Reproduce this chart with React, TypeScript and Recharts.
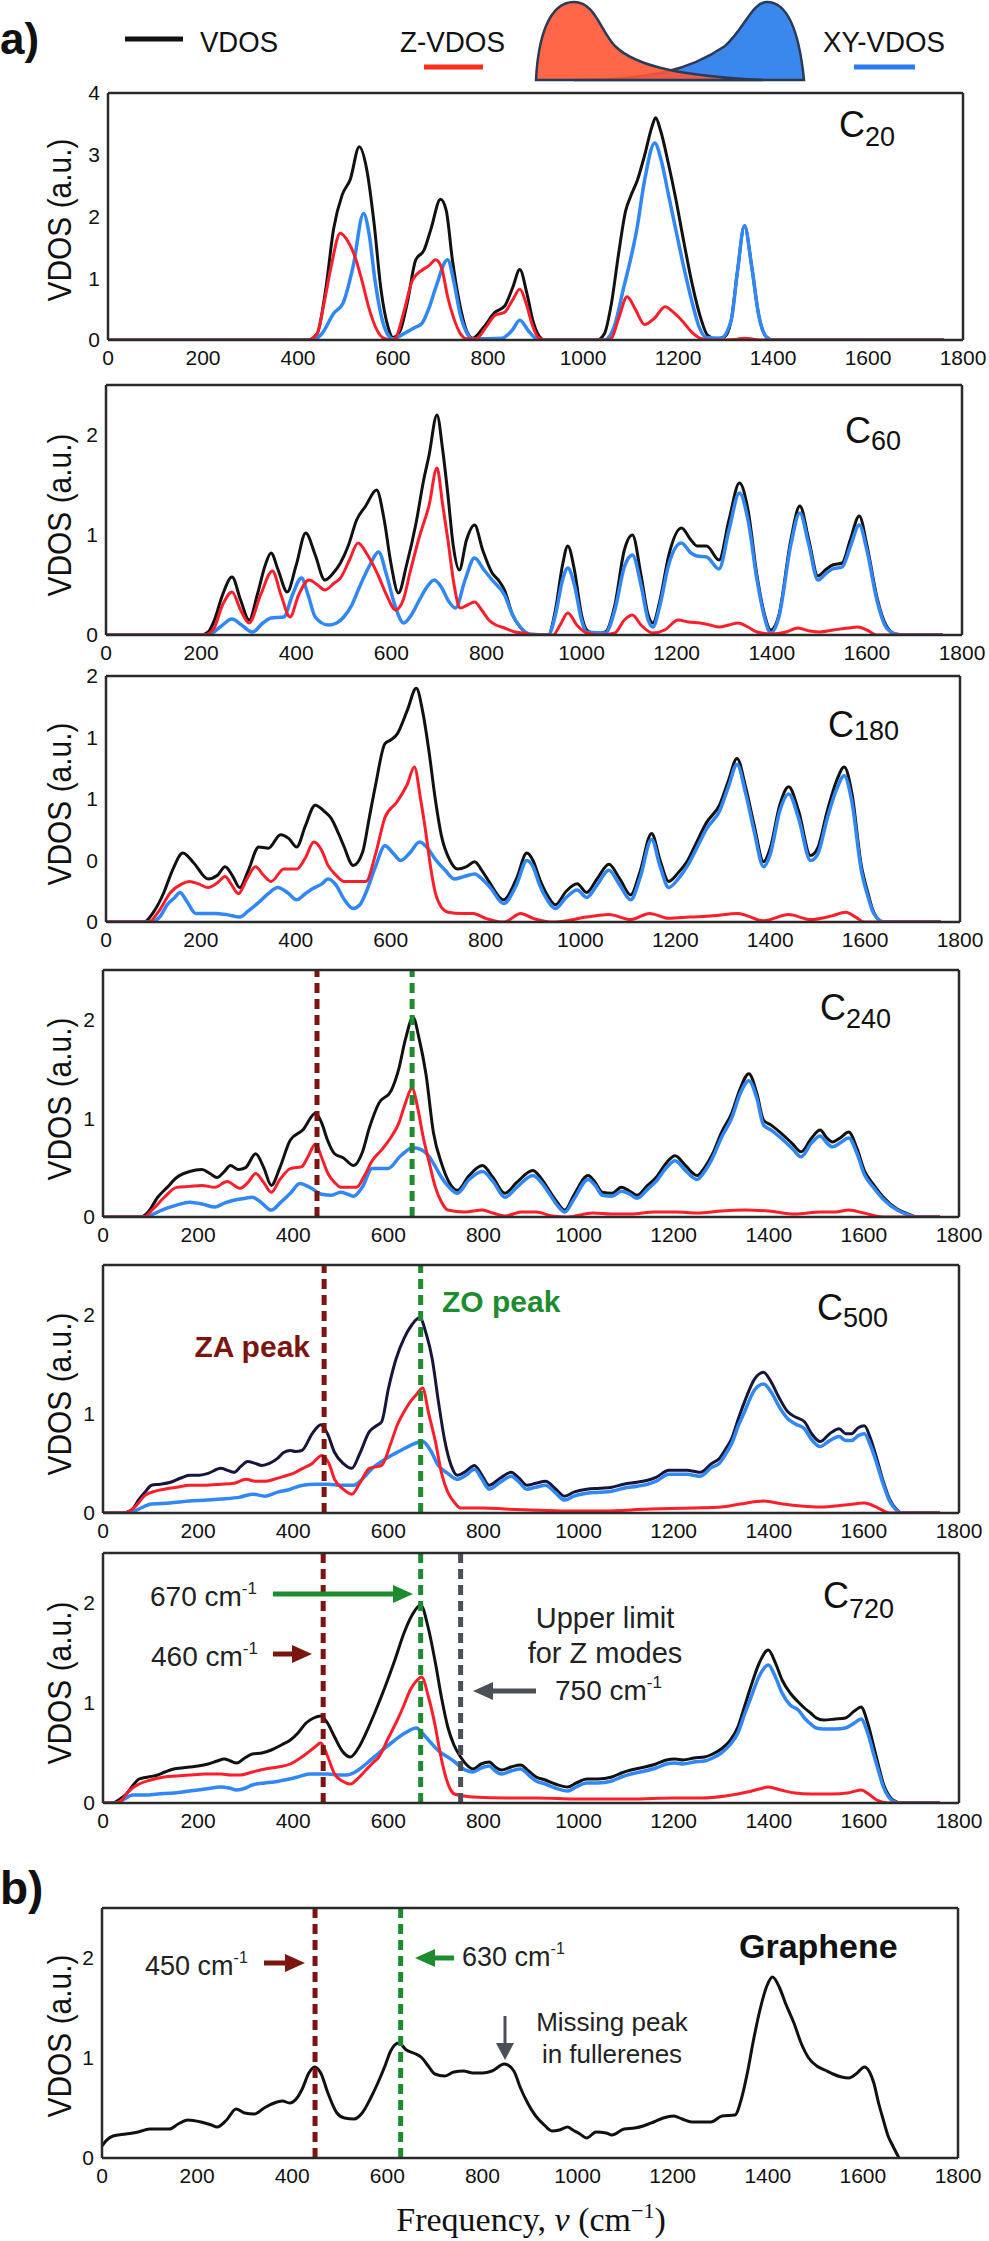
import React from "react";
import { LineChart, Line, XAxis, YAxis, ReferenceLine } from "recharts";

type Pt = [number, number];

// frequency (cm-1), VDOS (a.u.)
const c20Vdos: Pt[] = [[0,0],[420,0],[440,0.1],[458,0.8],[475,1.8],[493,2.35],[510,2.6],[529,3.13],[545,2.75],[560,1.9],[575,0.8],[590,0.2],[600,0.04],[615,0.15],[630,0.6],[648,1.3],[665,1.45],[680,1.8],[700,2.28],[712,2.1],[725,1.3],[740,0.6],[755,0.15],[768,0.03],[790,0.2],[815,0.45],[835,0.55],[852,0.85],[867,1.14],[882,0.75],[895,0.3],[908,0.06],[920,0],[1030,0],[1045,0.1],[1060,0.6],[1075,1.4],[1090,2.1],[1100,2.32],[1115,2.6],[1130,3.0],[1145,3.45],[1153,3.6],[1163,3.4],[1180,2.85],[1195,2.3],[1212,1.6],[1230,0.9],[1248,0.35],[1262,0.08],[1280,0.02],[1298,0.05],[1312,0.32],[1325,1.1],[1340,1.85],[1355,1.2],[1370,0.4],[1386,0.05],[1400,0],[1760,0]];
const c20Z: Pt[] = [[0,0],[420,0],[440,0.1],[455,0.6],[470,1.2],[489,1.73],[505,1.6],[520,1.35],[535,0.95],[550,0.5],[565,0.18],[580,0.03],[600,0],[605,0.02],[622,0.43],[641,0.97],[661,1.13],[675,1.2],[690,1.3],[703,1.15],[715,0.7],[728,0.35],[742,0.1],[755,0.02],[775,0.02],[795,0.2],[815,0.4],[835,0.45],[852,0.65],[867,0.82],[880,0.6],[893,0.25],[905,0.05],[920,0],[1050,0],[1060,0.03],[1075,0.35],[1093,0.7],[1110,0.5],[1130,0.25],[1150,0.35],[1173,0.54],[1190,0.45],[1210,0.3],[1230,0.12],[1250,0.02],[1270,0],[1320,0.01],[1340,0.03],[1360,0.01],[1380,0],[1760,0]];
const c20XY: Pt[] = [[0,0],[430,0],[450,0.1],[475,0.43],[495,0.6],[516,1.19],[538,2.05],[550,1.7],[562,0.97],[575,0.4],[588,0.1],[600,0.02],[622,0.1],[645,0.2],[661,0.27],[675,0.5],[690,0.85],[715,1.3],[728,0.95],[741,0.43],[755,0.12],[768,0.02],[830,0.03],[850,0.15],[867,0.32],[885,0.15],[900,0.03],[915,0],[1045,0],[1065,0.2],[1086,0.86],[1100,1.3],[1113,1.78],[1130,2.6],[1151,3.19],[1165,2.9],[1180,2.35],[1195,1.8],[1213,1.15],[1230,0.6],[1245,0.2],[1260,0.04],[1290,0.03],[1312,0.32],[1325,1.1],[1340,1.85],[1355,1.2],[1370,0.4],[1386,0.05],[1400,0],[1760,0]];

const c60Vdos: Pt[] = [[0,0],[200,0],[215,0.03],[228,0.15],[245,0.4],[265,0.58],[283,0.35],[301,0.15],[318,0.4],[335,0.7],[347,0.82],[362,0.65],[381,0.43],[400,0.7],[420,1.02],[440,0.8],[460,0.55],[478,0.62],[493,0.72],[510,0.9],[527,1.15],[546,1.29],[569,1.45],[585,1.15],[599,0.72],[615,0.42],[632,0.7],[652,1.12],[668,1.55],[679,1.79],[696,2.2],[708,1.85],[719,1.4],[730,0.9],[743,0.65],[758,0.95],[775,1.1],[792,0.85],[812,0.62],[825,0.55],[838,0.45],[855,0.2],[871,0.08],[891,0],[930,0],[945,0.25],[960,0.7],[971,0.89],[985,0.65],[1000,0.2],[1011,0.05],[1030,0.01],[1050,0.03],[1070,0.3],[1090,0.85],[1107,1.0],[1125,0.6],[1140,0.2],[1150,0.12],[1165,0.35],[1183,0.79],[1210,1.07],[1230,0.95],[1243,0.89],[1263,0.89],[1289,0.75],[1310,1.15],[1332,1.52],[1350,1.25],[1369,0.59],[1385,0.2],[1398,0.05],[1415,0.2],[1440,0.95],[1459,1.29],[1478,0.95],[1497,0.59],[1515,0.66],[1528,0.7],[1548,0.72],[1565,0.95],[1584,1.19],[1600,0.9],[1621,0.38],[1640,0.1],[1660,0.01],[1680,0],[1760,0]];
const c60Z: Pt[] = [[0,0],[205,0],[225,0.05],[245,0.3],[265,0.43],[283,0.25],[301,0.12],[325,0.4],[350,0.64],[368,0.4],[387,0.18],[405,0.4],[427,0.55],[445,0.5],[460,0.45],[480,0.52],[493,0.57],[512,0.75],[530,0.92],[550,0.8],[573,0.59],[590,0.4],[609,0.25],[625,0.35],[639,0.62],[660,1.0],[679,1.29],[696,1.67],[708,1.3],[719,0.95],[732,0.5],[745,0.27],[760,0.3],[775,0.33],[790,0.25],[805,0.15],[820,0.1],[838,0.07],[860,0.03],[878,0.02],[900,0],[940,0],[955,0.1],[971,0.22],[990,0.1],[1011,0.02],[1040,0],[1070,0.02],[1090,0.15],[1107,0.2],[1125,0.1],[1150,0.02],[1175,0.05],[1203,0.15],[1225,0.13],[1249,0.12],[1270,0.1],[1289,0.08],[1310,0.1],[1329,0.12],[1350,0.08],[1369,0.03],[1400,0.01],[1430,0.03],[1455,0.07],[1480,0.04],[1501,0.03],[1530,0.05],[1560,0.07],[1581,0.08],[1600,0.05],[1621,0],[1760,0]];
const c60XY: Pt[] = [[0,0],[215,0],[240,0.08],[265,0.16],[285,0.1],[308,0.03],[330,0.12],[347,0.17],[374,0.18],[392,0.4],[411,0.57],[425,0.4],[440,0.18],[467,0.1],[485,0.12],[500,0.18],[517,0.3],[533,0.48],[555,0.7],[573,0.83],[590,0.6],[606,0.32],[626,0.12],[642,0.2],[659,0.35],[675,0.48],[690,0.55],[705,0.48],[719,0.35],[735,0.27],[755,0.55],[775,0.77],[795,0.65],[812,0.55],[838,0.4],[855,0.2],[871,0.08],[891,0.01],[930,0],[945,0.2],[960,0.55],[971,0.67],[985,0.5],[1000,0.15],[1011,0.03],[1050,0.02],[1070,0.25],[1090,0.68],[1107,0.8],[1125,0.5],[1140,0.15],[1150,0.08],[1165,0.3],[1183,0.7],[1210,0.92],[1230,0.82],[1243,0.79],[1263,0.78],[1289,0.66],[1310,1.05],[1332,1.42],[1350,1.15],[1369,0.55],[1385,0.17],[1398,0.02],[1415,0.18],[1440,0.9],[1459,1.22],[1478,0.9],[1497,0.55],[1515,0.62],[1528,0.66],[1548,0.68],[1565,0.88],[1584,1.1],[1600,0.85],[1621,0.35],[1640,0.08],[1660,0.01],[1680,0],[1760,0]];

const c180Vdos: Pt[] = [[0,0],[80,0],[100,0.08],[122,0.24],[140,0.42],[162,0.56],[185,0.48],[215,0.35],[235,0.38],[251,0.45],[266,0.38],[282,0.28],[300,0.42],[322,0.61],[342,0.6],[368,0.71],[385,0.68],[402,0.61],[420,0.78],[441,0.95],[460,0.9],[475,0.84],[490,0.72],[501,0.62],[521,0.46],[541,0.57],[555,0.85],[568,1.11],[588,1.45],[600,1.48],[614,1.53],[635,1.72],[654,1.9],[668,1.7],[681,1.38],[694,1.0],[707,0.7],[725,0.5],[741,0.43],[760,0.45],[777,0.49],[792,0.42],[807,0.33],[838,0.18],[865,0.35],[887,0.56],[900,0.5],[914,0.35],[930,0.22],[947,0.14],[970,0.25],[993,0.31],[1013,0.24],[1035,0.35],[1060,0.47],[1083,0.35],[1106,0.22],[1125,0.4],[1150,0.72],[1168,0.5],[1186,0.33],[1206,0.4],[1226,0.5],[1245,0.65],[1266,0.81],[1293,0.95],[1312,1.15],[1330,1.33],[1348,1.1],[1366,0.79],[1386,0.49],[1400,0.6],[1420,0.95],[1439,1.1],[1460,0.9],[1485,0.54],[1500,0.6],[1520,0.9],[1540,1.15],[1556,1.26],[1572,1.05],[1592,0.46],[1605,0.25],[1618,0.08],[1638,0],[1760,0]];
const c180Z: Pt[] = [[0,0],[90,0],[110,0.08],[136,0.24],[160,0.31],[176,0.33],[195,0.31],[215,0.28],[235,0.32],[251,0.37],[265,0.3],[279,0.23],[297,0.35],[315,0.45],[332,0.38],[348,0.33],[375,0.43],[402,0.43],[420,0.52],[438,0.65],[455,0.58],[468,0.46],[485,0.38],[501,0.33],[548,0.33],[568,0.55],[588,0.85],[614,0.98],[635,1.12],[650,1.26],[663,1.0],[674,0.73],[684,0.45],[694,0.24],[707,0.12],[721,0.08],[750,0.07],[774,0.07],[800,0.03],[840,0],[874,0.07],[900,0.03],[947,0],[1013,0.04],[1060,0.06],[1106,0.02],[1146,0.07],[1186,0.03],[1230,0.04],[1279,0.05],[1332,0.07],[1386,0.01],[1439,0.06],[1485,0.02],[1530,0.05],[1559,0.08],[1580,0.04],[1598,0],[1760,0]];
const c180XY: Pt[] = [[0,0],[96,0],[115,0.05],[129,0.14],[145,0.2],[156,0.24],[170,0.17],[189,0.07],[229,0.07],[255,0.06],[282,0.04],[300,0.09],[322,0.16],[342,0.23],[362,0.28],[382,0.24],[402,0.18],[420,0.23],[435,0.27],[455,0.31],[468,0.35],[485,0.3],[501,0.19],[521,0.11],[535,0.14],[548,0.24],[568,0.45],[588,0.62],[605,0.56],[621,0.5],[640,0.56],[661,0.65],[678,0.6],[694,0.51],[715,0.42],[734,0.35],[755,0.37],[777,0.39],[795,0.34],[810,0.28],[838,0.15],[865,0.3],[887,0.5],[900,0.45],[914,0.3],[930,0.18],[947,0.11],[970,0.2],[993,0.26],[1013,0.2],[1035,0.3],[1060,0.42],[1083,0.3],[1106,0.18],[1125,0.35],[1150,0.67],[1168,0.45],[1186,0.28],[1206,0.35],[1226,0.46],[1245,0.6],[1266,0.76],[1293,0.9],[1312,1.1],[1330,1.28],[1348,1.05],[1366,0.74],[1386,0.45],[1400,0.55],[1420,0.9],[1439,1.04],[1460,0.84],[1485,0.5],[1500,0.55],[1520,0.84],[1540,1.08],[1556,1.19],[1572,0.98],[1592,0.42],[1605,0.22],[1618,0.07],[1640,0],[1760,0]];

const c240Vdos: Pt[] = [[0,0],[80,0],[95,0.05],[115,0.2],[135,0.3],[155,0.4],[182,0.46],[208,0.48],[225,0.44],[240,0.4],[255,0.46],[268,0.52],[285,0.48],[300,0.5],[321,0.64],[338,0.5],[354,0.32],[372,0.5],[394,0.78],[420,0.88],[447,1.05],[460,0.95],[472,0.78],[487,0.64],[505,0.6],[527,0.52],[545,0.65],[560,0.9],[580,1.15],[606,1.28],[622,1.5],[636,1.8],[652,2.02],[665,1.8],[679,1.45],[695,0.85],[712,0.54],[728,0.35],[745,0.27],[770,0.42],[798,0.52],[820,0.4],[845,0.24],[870,0.35],[904,0.47],[920,0.4],[938,0.27],[955,0.15],[971,0.07],[990,0.22],[1020,0.42],[1035,0.35],[1050,0.25],[1070,0.24],[1090,0.3],[1105,0.27],[1123,0.22],[1145,0.32],[1163,0.4],[1185,0.55],[1203,0.62],[1225,0.52],[1249,0.42],[1265,0.5],[1282,0.64],[1300,0.85],[1322,1.05],[1340,1.3],[1358,1.45],[1375,1.25],[1389,0.98],[1405,0.93],[1428,0.84],[1450,0.74],[1468,0.66],[1490,0.8],[1508,0.88],[1522,0.8],[1534,0.76],[1550,0.8],[1568,0.86],[1585,0.7],[1601,0.47],[1620,0.33],[1641,0.2],[1670,0.08],[1694,0.03],[1714,0],[1760,0]];
const c240Z: Pt[] = [[0,0],[85,0],[105,0.08],[129,0.2],[155,0.3],[182,0.31],[208,0.32],[235,0.3],[261,0.36],[288,0.29],[305,0.35],[321,0.44],[338,0.35],[354,0.25],[372,0.38],[394,0.49],[418,0.51],[430,0.6],[447,0.74],[460,0.6],[473,0.44],[487,0.35],[500,0.3],[533,0.3],[550,0.42],[566,0.57],[586,0.68],[606,0.81],[622,0.95],[633,1.11],[650,1.3],[662,1.1],[672,0.84],[686,0.55],[699,0.3],[712,0.15],[725,0.07],[760,0.05],[798,0.07],[820,0.04],[845,0.01],[880,0.05],[911,0.05],[945,0.01],[977,0],[1030,0.04],[1070,0.03],[1110,0.03],[1160,0.05],[1203,0.05],[1250,0.04],[1300,0.06],[1349,0.07],[1400,0.06],[1455,0.03],[1510,0.05],[1540,0.05],[1568,0.07],[1600,0.04],[1641,0],[1760,0]];
const c240XY: Pt[] = [[0,0],[90,0],[110,0.04],[129,0.08],[155,0.12],[182,0.15],[210,0.13],[235,0.1],[255,0.14],[275,0.17],[300,0.19],[314,0.2],[332,0.15],[354,0.07],[374,0.15],[394,0.24],[414,0.34],[435,0.3],[460,0.23],[480,0.22],[500,0.25],[515,0.23],[527,0.21],[545,0.3],[566,0.49],[599,0.49],[626,0.62],[652,0.7],[670,0.68],[686,0.61],[700,0.5],[712,0.4],[728,0.3],[745,0.24],[770,0.38],[798,0.46],[820,0.36],[845,0.2],[870,0.3],[904,0.42],[920,0.36],[938,0.24],[955,0.12],[971,0.05],[990,0.18],[1020,0.38],[1035,0.32],[1050,0.22],[1070,0.21],[1090,0.26],[1105,0.24],[1123,0.19],[1145,0.28],[1163,0.36],[1185,0.5],[1203,0.57],[1225,0.47],[1249,0.38],[1265,0.46],[1282,0.6],[1300,0.8],[1322,1.0],[1340,1.25],[1358,1.38],[1375,1.2],[1389,0.93],[1405,0.88],[1428,0.79],[1450,0.69],[1468,0.61],[1490,0.75],[1508,0.82],[1522,0.75],[1534,0.71],[1550,0.75],[1568,0.8],[1585,0.65],[1601,0.43],[1620,0.3],[1641,0.18],[1670,0.07],[1694,0.02],[1714,0],[1760,0]];

const c500Vdos: Pt[] = [[0,0],[40,0],[60,0.03],[76,0.14],[90,0.22],[102,0.28],[120,0.29],[142,0.31],[162,0.35],[182,0.38],[200,0.38],[221,0.4],[248,0.45],[262,0.43],[275,0.41],[290,0.47],[304,0.52],[320,0.5],[334,0.48],[350,0.5],[367,0.55],[380,0.61],[394,0.63],[405,0.62],[418,0.63],[440,0.8],[458,0.89],[472,0.8],[487,0.61],[505,0.5],[523,0.45],[540,0.6],[560,0.82],[575,0.88],[586,0.92],[600,1.25],[616,1.55],[633,1.76],[650,1.9],[666,1.97],[680,1.8],[692,1.56],[706,1.1],[719,0.72],[732,0.48],[745,0.38],[763,0.42],[781,0.48],[797,0.38],[812,0.28],[835,0.35],[858,0.41],[875,0.35],[891,0.28],[910,0.3],[931,0.32],[950,0.25],[971,0.17],[990,0.21],[1017,0.24],[1045,0.25],[1070,0.26],[1095,0.29],[1123,0.31],[1145,0.33],[1163,0.36],[1190,0.43],[1210,0.43],[1229,0.43],[1243,0.42],[1256,0.41],[1280,0.5],[1296,0.55],[1310,0.65],[1322,0.75],[1336,0.95],[1349,1.12],[1370,1.35],[1389,1.42],[1405,1.32],[1422,1.16],[1440,1.02],[1455,0.97],[1475,0.92],[1490,0.8],[1508,0.72],[1528,0.8],[1548,0.85],[1562,0.8],[1574,0.8],[1588,0.86],[1601,0.88],[1614,0.75],[1627,0.55],[1640,0.33],[1654,0.14],[1668,0.04],[1680,0],[1760,0]];
const c500Z: Pt[] = [[0,0],[45,0],[65,0.05],[89,0.18],[110,0.22],[129,0.24],[155,0.26],[182,0.28],[215,0.28],[248,0.29],[275,0.3],[301,0.34],[320,0.32],[341,0.32],[360,0.34],[381,0.37],[400,0.4],[420,0.45],[440,0.5],[460,0.58],[475,0.5],[487,0.34],[505,0.24],[523,0.19],[540,0.3],[560,0.45],[586,0.48],[605,0.7],[619,0.89],[633,1.02],[646,1.12],[660,1.2],[672,1.26],[685,1.0],[699,0.72],[712,0.4],[725,0.21],[740,0.1],[752,0.05],[800,0.05],[845,0.04],[900,0.03],[977,0.02],[1050,0.02],[1150,0.04],[1243,0.05],[1300,0.06],[1340,0.09],[1389,0.12],[1430,0.09],[1468,0.07],[1508,0.06],[1560,0.08],[1601,0.1],[1630,0.05],[1654,0],[1760,0]];
const c500XY: Pt[] = [[0,0],[55,0],[75,0.04],[102,0.09],[140,0.1],[182,0.12],[220,0.13],[248,0.14],[288,0.16],[314,0.19],[341,0.17],[367,0.21],[394,0.24],[420,0.28],[447,0.29],[473,0.29],[500,0.28],[527,0.28],[545,0.34],[566,0.45],[586,0.52],[606,0.58],[626,0.63],[646,0.68],[672,0.72],[690,0.62],[705,0.48],[725,0.4],[745,0.34],[763,0.38],[781,0.44],[797,0.34],[812,0.24],[835,0.31],[858,0.37],[875,0.31],[891,0.24],[910,0.26],[931,0.28],[950,0.21],[971,0.13],[990,0.17],[1017,0.2],[1045,0.21],[1070,0.22],[1095,0.25],[1123,0.27],[1145,0.29],[1163,0.32],[1190,0.39],[1210,0.39],[1229,0.39],[1243,0.38],[1256,0.37],[1280,0.46],[1296,0.5],[1310,0.6],[1322,0.7],[1336,0.88],[1349,1.02],[1370,1.24],[1389,1.3],[1405,1.22],[1422,1.07],[1440,0.95],[1455,0.9],[1475,0.85],[1490,0.74],[1508,0.67],[1528,0.73],[1548,0.77],[1562,0.73],[1574,0.73],[1588,0.78],[1601,0.8],[1614,0.68],[1627,0.5],[1640,0.3],[1654,0.12],[1668,0.03],[1680,0],[1760,0]];

const c720Vdos: Pt[] = [[0,0],[20,0],[36,0.04],[49,0.09],[62,0.17],[76,0.24],[95,0.26],[115,0.28],[130,0.31],[149,0.34],[165,0.35],[182,0.36],[200,0.37],[221,0.39],[240,0.42],[255,0.44],[268,0.42],[281,0.4],[298,0.45],[314,0.49],[334,0.5],[354,0.53],[375,0.58],[394,0.63],[410,0.7],[427,0.8],[443,0.85],[458,0.87],[472,0.8],[487,0.66],[503,0.52],[520,0.46],[537,0.55],[553,0.7],[573,0.92],[593,1.16],[613,1.42],[633,1.7],[650,1.88],[668,1.98],[684,1.75],[699,1.4],[712,1.05],[725,0.76],[738,0.58],[752,0.46],[765,0.38],[778,0.34],[795,0.39],[812,0.41],[825,0.36],[838,0.33],[858,0.36],[878,0.38],[895,0.32],[911,0.26],[930,0.23],[951,0.19],[977,0.16],[995,0.2],[1017,0.24],[1040,0.24],[1070,0.26],[1090,0.3],[1110,0.33],[1130,0.35],[1163,0.39],[1185,0.43],[1203,0.44],[1220,0.43],[1243,0.45],[1265,0.46],[1282,0.49],[1300,0.54],[1318,0.62],[1335,0.76],[1350,0.98],[1362,1.16],[1380,1.4],[1399,1.53],[1414,1.4],[1428,1.23],[1445,1.1],[1462,1.01],[1475,0.95],[1488,0.9],[1500,0.85],[1515,0.83],[1540,0.84],[1561,0.85],[1580,0.92],[1594,0.96],[1608,0.8],[1621,0.56],[1632,0.35],[1641,0.19],[1652,0.08],[1661,0.03],[1680,0],[1760,0]];
const c720Z: Pt[] = [[0,0],[25,0],[40,0.03],[49,0.09],[62,0.15],[76,0.19],[100,0.23],[129,0.26],[155,0.27],[182,0.28],[215,0.29],[248,0.29],[268,0.28],[288,0.28],[314,0.31],[341,0.34],[368,0.36],[394,0.39],[415,0.45],[427,0.49],[443,0.55],[458,0.6],[472,0.47],[487,0.29],[503,0.22],[520,0.19],[537,0.25],[553,0.33],[567,0.4],[580,0.46],[600,0.65],[619,0.83],[633,0.98],[646,1.13],[659,1.22],[670,1.26],[685,1.05],[699,0.76],[709,0.5],[719,0.29],[729,0.15],[739,0.09],[760,0.07],[778,0.06],[850,0.05],[911,0.05],[1000,0.04],[1110,0.04],[1200,0.05],[1260,0.05],[1309,0.07],[1335,0.09],[1355,0.11],[1380,0.14],[1399,0.16],[1425,0.13],[1455,0.1],[1490,0.09],[1534,0.09],[1565,0.1],[1594,0.13],[1610,0.09],[1627,0.03],[1654,0],[1760,0]];
const c720XY: Pt[] = [[0,0],[30,0],[45,0.04],[62,0.08],[90,0.08],[115,0.09],[150,0.1],[182,0.12],[215,0.14],[248,0.16],[265,0.15],[281,0.13],[300,0.15],[314,0.18],[340,0.2],[360,0.21],[381,0.23],[410,0.26],[434,0.29],[455,0.29],[473,0.29],[495,0.28],[513,0.28],[530,0.31],[553,0.39],[580,0.5],[606,0.6],[635,0.7],[659,0.75],[675,0.68],[690,0.6],[706,0.52],[725,0.46],[740,0.41],[755,0.35],[778,0.31],[795,0.35],[812,0.37],[825,0.32],[838,0.29],[858,0.32],[878,0.34],[895,0.28],[911,0.22],[930,0.19],[951,0.15],[977,0.12],[995,0.16],[1017,0.2],[1040,0.2],[1070,0.22],[1090,0.26],[1110,0.29],[1130,0.31],[1163,0.35],[1185,0.39],[1203,0.4],[1220,0.39],[1243,0.41],[1265,0.42],[1282,0.45],[1300,0.5],[1318,0.58],[1335,0.7],[1350,0.9],[1362,1.05],[1380,1.27],[1399,1.38],[1414,1.26],[1428,1.1],[1445,0.98],[1462,0.93],[1475,0.85],[1488,0.79],[1500,0.75],[1515,0.74],[1540,0.74],[1561,0.75],[1580,0.8],[1594,0.84],[1608,0.7],[1621,0.48],[1632,0.3],[1641,0.16],[1652,0.06],[1661,0.02],[1680,0],[1760,0]];

const grapheneVdos: Pt[] = [[0,0.12],[8,0.17],[23,0.22],[50,0.24],[76,0.26],[100,0.29],[116,0.29],[142,0.29],[160,0.34],[180,0.38],[208,0.36],[230,0.33],[242,0.31],[262,0.38],[282,0.49],[300,0.45],[320,0.44],[341,0.5],[368,0.56],[380,0.57],[394,0.55],[410,0.6],[421,0.69],[435,0.85],[447,0.91],[460,0.85],[475,0.65],[494,0.45],[510,0.4],[530,0.39],[547,0.45],[565,0.6],[580,0.75],[595,0.92],[607,1.07],[624,1.15],[640,1.08],[660,1.04],[673,1.0],[686,0.92],[700,0.84],[720,0.82],[740,0.86],[760,0.87],[780,0.85],[800,0.85],[820,0.87],[846,0.94],[866,0.87],[880,0.7],[895,0.55],[912,0.42],[930,0.33],[946,0.27],[962,0.28],[979,0.31],[990,0.28],[1005,0.24],[1019,0.2],[1039,0.26],[1060,0.25],[1072,0.23],[1098,0.29],[1120,0.3],[1138,0.32],[1160,0.36],[1180,0.4],[1202,0.42],[1220,0.39],[1240,0.36],[1260,0.36],[1280,0.36],[1304,0.42],[1331,0.43],[1345,0.6],[1357,0.85],[1370,1.18],[1384,1.49],[1398,1.72],[1410,1.81],[1425,1.7],[1437,1.55],[1455,1.35],[1470,1.15],[1486,1.0],[1503,0.92],[1520,0.88],[1537,0.84],[1555,0.81],[1570,0.8],[1588,0.85],[1603,0.91],[1614,0.86],[1623,0.75],[1633,0.55],[1643,0.38],[1653,0.22],[1663,0.12],[1676,0]];

const xLabelTicks = [0, 200, 400, 600, 800, 1000, 1200, 1400, 1600, 1800];
const xMinorTicks = [100, 200, 300, 400, 500, 600, 700, 800, 900, 1000, 1100, 1200, 1300, 1400, 1500, 1600, 1700];
const yTicks4 = [0, 1, 2, 3, 4];
const yMinor4 = [0.5, 1.5, 2.5, 3.5];
const yRight4 = [0.43, 0.86, 1.3, 1.73, 2.16, 2.64, 3.08, 3.5];
const yTicks25 = [0, 1, 2];
const yMinor25 = [0.5, 1.5];
const yRight25 = [0.27, 0.54, 0.82, 1.09, 1.36, 1.63, 1.9, 2.17, 2.43];
const yTicks2 = [0, 0.5, 1, 1.5, 2];
const yRight2 = [0.43, 0.87, 1.3, 1.73];

const BLACK = "#111111";
const NAVY = "#15163a";
const RED = "#fb1f2c";
const BLUE = "#3187f4";
const BROWN = "#7b1510";
const GREEN = "#1d8c2f";
const GREY = "#4b4f57";
const FRAME = "#2a2a2a";

const toPts = (arr: Pt[]) => arr.map(([x, y]) => ({ x, y }));

type Series = { data: Pt[]; color: string; w: number };
type Marker = { x: number; color: string };

const PAD_TOP = 20;

function Panel(p: {
  left: number; right: number; top: number; bottom: number; yMax: number;
  yLabels: number[]; yMinor: number[]; yRight: number[];
  fmt?: (v: number) => string; series: Series[]; markers?: Marker[];
}) {
  const h = p.bottom - p.top + PAD_TOP + 36;
  const tickFont = { fontSize: 21, fill: "#111", fontFamily: "Liberation Sans, Arial, sans-serif" };
  const frame = { stroke: FRAME, strokeWidth: 2.5 };
  const tl = { stroke: FRAME, strokeWidth: 2 };
  return (
    <div style={{ position: "absolute", left: 0, top: p.top - PAD_TOP }}>
      <LineChart width={989} height={h} margin={{ top: PAD_TOP, right: 989 - p.right, bottom: 0, left: p.left - 40 }}>
        <XAxis xAxisId="x" dataKey="x" type="number" domain={[0, 1800]} ticks={xLabelTicks} interval={0}
          allowDataOverflow height={36} tick={tickFont} tickLine={false} tickSize={6} tickMargin={4} axisLine={frame} />
        <XAxis xAxisId="xb" dataKey="x" type="number" domain={[0, 1800]} ticks={xMinorTicks} interval={0}
          allowDataOverflow orientation="bottom" mirror height={1} tick={false} tickLine={tl} tickSize={5} axisLine={false} />
        <XAxis xAxisId="xt" dataKey="x" type="number" domain={[0, 1800]} ticks={xMinorTicks} interval={0}
          allowDataOverflow orientation="top" mirror height={1} tick={false} tickLine={tl} tickSize={6} axisLine={frame} />
        <YAxis yAxisId="y" type="number" domain={[0, p.yMax]} ticks={p.yLabels} interval={0} allowDataOverflow
          width={40} tick={tickFont} tickLine={false} axisLine={frame} tickFormatter={p.fmt ?? ((v: number) => String(v))} />
        <YAxis yAxisId="yl" type="number" domain={[0, p.yMax]} ticks={p.yLabels} interval={0} allowDataOverflow
          mirror width={1} tick={false} tickLine={tl} tickSize={10} axisLine={false} />
        <YAxis yAxisId="ym" type="number" domain={[0, p.yMax]} ticks={p.yMinor} interval={0} allowDataOverflow
          mirror width={1} tick={false} tickLine={tl} tickSize={7} axisLine={false} />
        <YAxis yAxisId="yr" type="number" domain={[0, p.yMax]} ticks={p.yRight} interval={0} allowDataOverflow
          orientation="right" mirror width={1} tick={false} tickLine={tl} tickSize={8} axisLine={frame} />
        {p.series.map((s, i) => (
          <Line key={i} xAxisId="x" yAxisId="y" data={toPts(s.data)} dataKey="y" type="monotone"
            stroke={s.color} strokeWidth={s.w} dot={false} activeDot={false} isAnimationActive={false} />
        ))}
        {(p.markers ?? []).map((m, i) => (
          <ReferenceLine key={"m" + i} xAxisId="x" yAxisId="y" x={m.x} stroke={m.color} strokeWidth={5}
            strokeDasharray="10 6" ifOverflow="extendDomain" />
        ))}
      </LineChart>
    </div>
  );
}

function Arrow({ x1, y1, x2, y2, color, w = 5, head = 20, half = 9 }: {
  x1: number; y1: number; x2: number; y2: number; color: string; w?: number; head?: number; half?: number;
}) {
  const dx = x2 - x1, dy = y2 - y1;
  const len = Math.hypot(dx, dy);
  const ux = dx / len, uy = dy / len;
  const bx = x2 - ux * head, by = y2 - uy * head;
  return (
    <g>
      <line x1={x1} y1={y1} x2={bx + ux * 2} y2={by + uy * 2} stroke={color} strokeWidth={w} />
      <polygon points={`${x2},${y2} ${bx - uy * half},${by + ux * half} ${bx + uy * half},${by - ux * half}`} fill={color} />
    </g>
  );
}

function CLabel({ x, y, sub, dy }: { x: number; y: number; sub: string; dy: number }) {
  return (
    <text x={x} y={y} fontSize={36} fill="#111">
      C<tspan fontSize={27} dy={dy}>{sub}</tspan>
    </text>
  );
}

function YTitle({ cy }: { cy: number }) {
  return (
    <text x={71} y={cy} transform={`rotate(-90 71 ${cy})`} textAnchor="middle" fontSize={34} fill="#111"
      textLength={163} lengthAdjust="spacingAndGlyphs">VDOS (a.u.)</text>
  );
}

function Overlay() {
  const sans = "Liberation Sans, Arial, sans-serif";
  return (
    <svg width={989} height={2241} style={{ position: "absolute", left: 0, top: 0, pointerEvents: "none" }} fontFamily={sans}>
      <text x={0} y={54} fontSize={44} fontWeight="bold" fill="#111">a)</text>
      <line x1={125} y1={39} x2={183} y2={39} stroke={BLACK} strokeWidth={5} />
      <text x={200} y={52} fontSize={30} fill="#111" textLength={78} lengthAdjust="spacingAndGlyphs">VDOS</text>
      <text x={400} y={52} fontSize={30} fill="#111" textLength={105} lengthAdjust="spacingAndGlyphs">Z-VDOS</text>
      <line x1={424} y1={67} x2={483} y2={67} stroke="#ff2d1a" strokeWidth={5} />
      <path d="M574,80 C650,80 690,70 725,46 C745,28 752,2 767,2 C790,2 800,40 804,80 Z" fill="#3a88ee" stroke="#2b3a55" strokeWidth={2.5} />
      <path d="M536,80 C538,40 548,2 574,2 C595,2 600,30 615,46 C635,66 680,76 763,80 Z" fill="#ff5634" fillOpacity={0.9} stroke="#2b3a55" strokeWidth={2.5} />
      <text x={823} y={52} fontSize={30} fill="#111" textLength={122} lengthAdjust="spacingAndGlyphs">XY-VDOS</text>
      <line x1={854} y1={67} x2={915} y2={67} stroke="#2a7af0" strokeWidth={5} />

      <CLabel x={839} y={137} sub="20" dy={9} />
      <CLabel x={845} y={443} sub="60" dy={7} />
      <CLabel x={828} y={737} sub="180" dy={3} />
      <CLabel x={820} y={1020} sub="240" dy={8} />
      <CLabel x={817} y={1320} sub="500" dy={7} />
      <CLabel x={823} y={1608} sub="720" dy={10} />

      <YTitle cy={220} />
      <YTitle cy={515} />
      <YTitle cy={804} />
      <YTitle cy={1099} />
      <YTitle cy={1394} />
      <YTitle cy={1683} />
      <YTitle cy={2036} />

      <text x={310} y={1357} textAnchor="end" fontSize={30} fontWeight="bold" fill={BROWN}>ZA peak</text>
      <text x={442} y={1312} fontSize={30} fontWeight="bold" fill={GREEN}>ZO peak</text>

      <text x={150} y={1606} fontSize={28} fill="#222">670 cm<tspan dy={-12} fontSize={17}>-1</tspan></text>
      <Arrow x1={273} y1={1594} x2={413} y2={1594} color={GREEN} />
      <text x={151} y={1666} fontSize={28} fill="#222">460 cm<tspan dy={-12} fontSize={17}>-1</tspan></text>
      <Arrow x1={273} y1={1654} x2={312} y2={1654} color={BROWN} />
      <text x={605} y={1628} textAnchor="middle" fontSize={29} fill="#222">Upper limit</text>
      <text x={605} y={1663} textAnchor="middle" fontSize={29} fill="#222">for Z modes</text>
      <text x={555} y={1700} fontSize={28} fill="#222">750 cm<tspan dy={-12} fontSize={17}>-1</tspan></text>
      <Arrow x1={536} y1={1691} x2={473} y2={1691} color={GREY} />

      <text x={0} y={1904} fontSize={46} fontWeight="bold" fill="#111">b)</text>
      <text x={739} y={1958} fontSize={34} fontWeight="bold" fill="#111">Graphene</text>
      <text x={145} y={1975} fontSize={27} fill="#222">450 cm<tspan dy={-12} fontSize={16}>-1</tspan></text>
      <Arrow x1={264} y1={1963} x2={305} y2={1963} color={BROWN} />
      <text x={462} y={1966} fontSize={27} fill="#222">630 cm<tspan dy={-12} fontSize={16}>-1</tspan></text>
      <Arrow x1={454} y1={1958} x2={415} y2={1958} color={GREEN} />
      <text x={612} y={2031} textAnchor="middle" fontSize={26} fill="#222">Missing peak</text>
      <text x={612} y={2063} textAnchor="middle" fontSize={26} fill="#222">in fullerenes</text>
      <Arrow x1={505} y1={2016} x2={505} y2={2060} color={GREY} w={3} head={17} half={9} />

      <text x={531} y={2231} textAnchor="middle" fontFamily="Liberation Serif, Times New Roman, serif" fontSize={34} fill="#111">
        Frequency, <tspan fontStyle="italic">ν</tspan> (cm<tspan dy={-13} fontSize={22}>−1</tspan><tspan dy={13}>)</tspan>
      </text>
    </svg>
  );
}

export default function App() {
  return (
    <div style={{ position: "absolute", left: 0, top: 0, width: 989, height: 2241, background: "#fff", fontFamily: "Liberation Sans, Arial, sans-serif" }}>
      <Panel left={108} right={963} top={93} bottom={340} yMax={4} yLabels={yTicks4} yMinor={yMinor4} yRight={yRight4}
        series={[{ data: c20Vdos, color: BLACK, w: 3 }, { data: c20XY, color: BLUE, w: 3.5 }, { data: c20Z, color: RED, w: 3 }]} />
      <Panel left={106} right={962} top={385} bottom={635} yMax={2.5} yLabels={yTicks25} yMinor={yMinor25} yRight={yRight25}
        series={[{ data: c60Vdos, color: BLACK, w: 3 }, { data: c60XY, color: BLUE, w: 3.5 }, { data: c60Z, color: RED, w: 3 }]} />
      <Panel left={106} right={960} top={676} bottom={922} yMax={2} yLabels={yTicks2} yMinor={[]} yRight={yRight2}
        fmt={(v: number) => String(Math.floor(v))}
        series={[{ data: c180Vdos, color: BLACK, w: 3 }, { data: c180XY, color: BLUE, w: 3.5 }, { data: c180Z, color: RED, w: 3 }]} />
      <Panel left={103} right={959} top={970} bottom={1217} yMax={2.5} yLabels={yTicks25} yMinor={yMinor25} yRight={yRight25}
        series={[{ data: c240Vdos, color: BLACK, w: 3 }, { data: c240XY, color: BLUE, w: 3.5 }, { data: c240Z, color: RED, w: 3 }]}
        markers={[{ x: 450, color: BROWN }, { x: 650, color: GREEN }]} />
      <Panel left={103} right={959} top={1265} bottom={1513} yMax={2.5} yLabels={yTicks25} yMinor={yMinor25} yRight={yRight25}
        series={[{ data: c500Vdos, color: NAVY, w: 3 }, { data: c500XY, color: BLUE, w: 3.5 }, { data: c500Z, color: RED, w: 3 }]}
        markers={[{ x: 465, color: BROWN }, { x: 668, color: GREEN }]} />
      <Panel left={103} right={959} top={1553} bottom={1803} yMax={2.5} yLabels={yTicks25} yMinor={yMinor25} yRight={yRight25}
        series={[{ data: c720Vdos, color: BLACK, w: 3 }, { data: c720XY, color: BLUE, w: 3.5 }, { data: c720Z, color: RED, w: 3 }]}
        markers={[{ x: 463, color: BROWN }, { x: 668, color: GREEN }, { x: 752, color: GREY }]} />
      <Panel left={102} right={958} top={1908} bottom={2158} yMax={2.5} yLabels={yTicks25} yMinor={yMinor25} yRight={yRight25}
        series={[{ data: grapheneVdos, color: BLACK, w: 3 }]}
        markers={[{ x: 448, color: BROWN }, { x: 628, color: GREEN }]} />
      <Overlay />
    </div>
  );
}
